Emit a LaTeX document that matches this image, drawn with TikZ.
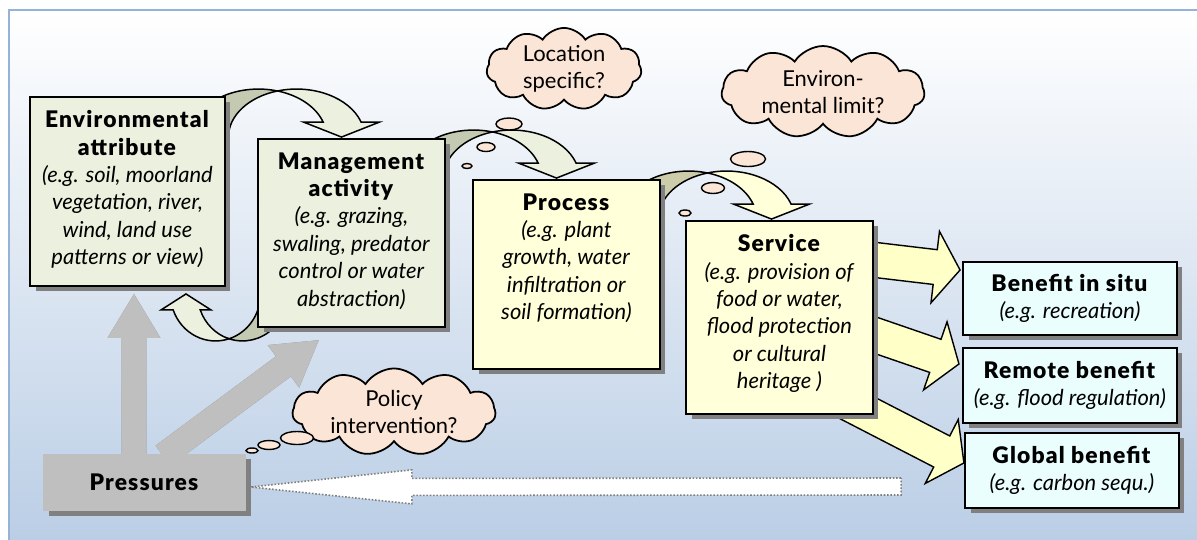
\documentclass[tikz,border=0pt]{standalone}
\usepackage{fontspec}
\setmainfont{Lato}[BoldFont={Lato Black}, BoldFeatures={Scale=1.04, LetterSpace=5}]
\usetikzlibrary{positioning,calc,shapes.symbols,shadows}

\definecolor{framecol}{RGB}{149,179,215}
\definecolor{bgblue}{RGB}{185,205,229}
\definecolor{greenfill}{RGB}{235,241,222}
\definecolor{greenback}{RGB}{196,202,178}
\definecolor{yellowfill}{RGB}{255,255,217}
\definecolor{yellowback}{RGB}{204,204,170}
\definecolor{arrowyellow}{RGB}{255,255,200}
\definecolor{cyanfill}{RGB}{234,254,254}
\definecolor{cloudfill}{RGB}{251,229,214}
\definecolor{pressgray}{RGB}{191,191,191}
\definecolor{shadowgray}{RGB}{128,128,128}

\pgfdeclarelayer{back}
\pgfdeclarelayer{arrows}
\pgfsetlayers{back,arrows,main}

\tikzset{
  txtfont/.style={font=\fontsize{12.5}{15.6}\selectfont},
  boxshadow/.style={drop shadow={shadow xshift=0.11cm, shadow yshift=-0.1cm, opacity=1, fill=shadowgray}},
  box/.style={draw=black, line width=1.1pt, boxshadow, inner sep=0pt},
  boxtext/.style={txtfont, align=center, inner sep=2pt},
  benefit/.style={box, txtfont, fill=cyanfill, minimum width=4.28cm, align=center},
  pressbox/.style={txtfont, fill=pressgray, boxshadow, minimum width=4.06cm, minimum height=1.14cm},
  cloudnote/.style={cloud, cloud puffs=11, cloud puff arc=115, cloud ignores aspect, draw=black,
    line width=1pt, fill=cloudfill, txtfont, align=center, inner sep=0pt},
  bubble/.style={draw=black, line width=0.8pt, fill=cloudfill},
  bent/.style={draw=black, line width=0.85pt},
  fat/.style={fill=pressgray},
  fatshadow/.style={fill=shadowgray, shift={(0.1cm,-0.1cm)}},
  pointer/.style={draw=black, line width=0.8pt, fill=arrowyellow},
  feedback/.style={draw=shadowgray, densely dotted, line width=0.9pt, fill=white}
}

% straight block arrow: #1 style, #2 from, #3 to, #4 half shaft, #5 half head, #6 head length
\newcommand\blockarrow[6]{%
  \path[#1] let \p1=($(#3)-(#2)$), \n1={veclen(\x1,\y1)}, \n2={atan2(\y1,\x1)} in
    [shift={(#2)}, rotate=\n2]
    (0pt,-#4) -- (\n1-#6,-#4) -- (\n1-#6,-#5) -- (\n1,0pt)
    -- (\n1-#6,#5) -- (\n1-#6,#4) -- (0pt,#4) -- cycle;}

% curved arrow over the top: #1 tip, #2 front fill, #3 back fill
\newcommand\bendover[3]{%
  \begin{scope}[shift={(#1)}]
    \filldraw[bent, fill=#3] (-151,0)
      arc[start angle=180, end angle=286.2, x radius=68, y radius=48]
      arc[start angle=253.8, end angle=180, x radius=68, y radius=48] -- cycle;
    \filldraw[bent, fill=#2] (-64,-46.1)
      arc[start angle=286.2, end angle=341.8, x radius=68, y radius=48]
      -- (-38,-15) -- (0,0) -- (38,-15) -- (19.6,-15)
      arc[start angle=341.8, end angle=253.8, x radius=68, y radius=48] -- cycle;
  \end{scope}}

\begin{document}
\begin{tikzpicture}[x=0.02cm, y=-0.02cm]
\useasboundingbox (0,0) rectangle (1197,539);

\begin{pgfonlayer}{back}
  \shade[top color=white, bottom color=bgblue] (9,10) rectangle (1205,550);
  \draw[framecol, line width=1.1pt] (9,10) rectangle (1205,550);
\end{pgfonlayer}

% chain of boxes
\node[box, fill=greenfill, minimum width=3.9cm, minimum height=3.78cm] (env) at (127.5,191.5) {};
\node[boxtext, below=6pt of env.north] (env-txt) {\textbf{Environmental}\\ \textbf{attribute}\\
  \textit{(e.g. soil, moorland}\\ \textit{vegetation, river,}\\ \textit{wind, land use}\\ \textit{patterns or view)}};

\node[box, fill=greenfill, minimum width=3.74cm, minimum height=3.76cm] (mgmt) at (351.5,233) {};
\node[boxtext, below=6pt of mgmt.north] (mgmt-txt) {\textbf{Management}\\ \textbf{activity}\\
  \textit{(e.g. grazing,}\\ \textit{swaling, predator}\\ \textit{control or water}\\ \textit{abstraction)}};

\node[box, fill=yellowfill, minimum width=3.74cm, minimum height=3.78cm] (proc) at (566.5,274.5) {};
\node[boxtext, below=6pt of proc.north] (proc-txt) {\textbf{Process}\\
  \textit{(e.g. plant}\\ \textit{growth, water}\\ \textit{infiltration or}\\ \textit{soil formation)}};

\node[box, fill=yellowfill, minimum width=3.74cm, minimum height=3.86cm] (serv) at (779.5,317.5) {};
\node[boxtext, below=6pt of serv.north] (serv-txt) {\textbf{Service}\\
  \textit{(e.g. provision of}\\ \textit{food or water,}\\ \textit{flood protection}\\ \textit{or cultural}\\ \textit{heritage )}};

% benefits
\node[benefit, minimum height=1.46cm] (insitu) at (1070,298.5) {\textbf{Benefit in situ}\\ \textit{(e.g. recreation)}};
\node[benefit, minimum height=1.5cm] (remote) at (1070,385.5) {\textbf{Remote benefit}\\ \textit{(e.g. flood regulation)}};
\node[benefit, minimum height=1.5cm] (global) at (1072,470.5) {\textbf{Global benefit}\\ \textit{(e.g. carbon sequ.)}};

\node[pressbox] (press) at (144.5,482.5) {\textbf{Pressures}};

% connector ends
\coordinate (tipA) at ($(mgmt.north)+(-10,-1)$);
\coordinate (tipB) at ($(proc.north)+(-10,-1)$);
\coordinate (tipC) at ($(serv.north)+(-8,-1)$);
\coordinate (tipU) at ($(env.south)+(58.5,7)$);
\coordinate (upfrom) at ($(press.north)+(-10.5,4)$);
\coordinate (upto) at ($(env.south)+(6.5,7)$);
\coordinate (diagfrom) at ($(press.north)+(18.5,2)$);
\coordinate (diagto) at ($(mgmt.south west)+(62,12)$);
\coordinate (out1) at ($(serv.center)+(62.5,-61.5)$);
\coordinate (out2) at ($(serv.center)+(57.5,4.5)$);
\coordinate (out3) at ($(serv.center)+(60.5,81.5)$);
\coordinate (in1) at ($(insitu.west)+(-2,-28.5)$);
\coordinate (in2) at ($(remote.west)+(-3,-21.5)$);
\coordinate (in3) at ($(global.west)+(0,-7.5)$);
\coordinate (fbfrom) at ($(global.west)+(-63,16)$);
\coordinate (fbto) at ($(press.east)+(4.5,4.5)$);

\begin{pgfonlayer}{arrows}
  \bendover{tipA}{greenfill}{greenback}
  \bendover{tipB}{greenfill}{greenback}
  \bendover{tipC}{yellowfill}{yellowback}
  % back from management to attribute
  \begin{scope}[shift={(tipU)}]
    \filldraw[bent, fill=greenback] (43,44.8)
      arc[start angle=107.5, end angle=0, x radius=45, y radius=47] -- (74.5,0)
      arc[start angle=0, end angle=72.5, x radius=45, y radius=47] -- cycle;
    \filldraw[bent, fill=greenfill] (-12.8,16)
      arc[start angle=160.1, end angle=72.5, x radius=45, y radius=47]
      arc[start angle=107.5, end angle=160.1, x radius=45, y radius=47]
      -- (25,16) -- (0,0) -- (-25,16) -- cycle;
  \end{scope}
  % pressures
  \blockarrow{fatshadow}{upfrom}{upto}{0.25cm}{0.53cm}{0.88cm}
  \blockarrow{fat}{upfrom}{upto}{0.25cm}{0.53cm}{0.88cm}
  \blockarrow{fatshadow}{diagfrom}{diagto}{0.25cm}{0.53cm}{0.88cm}
  \blockarrow{fat}{diagfrom}{diagto}{0.25cm}{0.53cm}{0.88cm}
  % service to benefits
  \blockarrow{pointer}{out1}{in1}{0.35cm}{0.72cm}{0.5cm}
  \blockarrow{pointer}{out2}{in2}{0.35cm}{0.72cm}{0.5cm}
  \blockarrow{pointer}{out3}{in3}{0.35cm}{0.72cm}{0.5cm}
  \blockarrow{feedback}{fbfrom}{fbto}{0.17cm}{0.34cm}{3.22cm}
\end{pgfonlayer}

% thoughts
\node[cloudnote, minimum width=3.1cm, minimum height=1.6cm] (loc) at (564,69) {Location\\specific?};
\node[cloudnote, minimum width=4.06cm, minimum height=1.84cm] (limit) at (823,92) {Environ-\\mental limit?};
\node[cloudnote, minimum width=4.06cm, minimum height=1.46cm] (policy) at (394,412) {Policy\\intervention?};
\foreach \x/\y/\rx/\ry in {509/124/13/6, 486/147/9/4.5, 467/166/5/2.5,
    748/159/17.5/7.5, 713/188/11.5/5.5, 685/213/6/3,
    297/438/16.5/6.5, 269/445/11/4.5, 252/450.5/6/2.5}
  \draw[bubble] (\x,\y) ellipse[x radius=\rx, y radius=\ry];
\end{tikzpicture}
\end{document}
